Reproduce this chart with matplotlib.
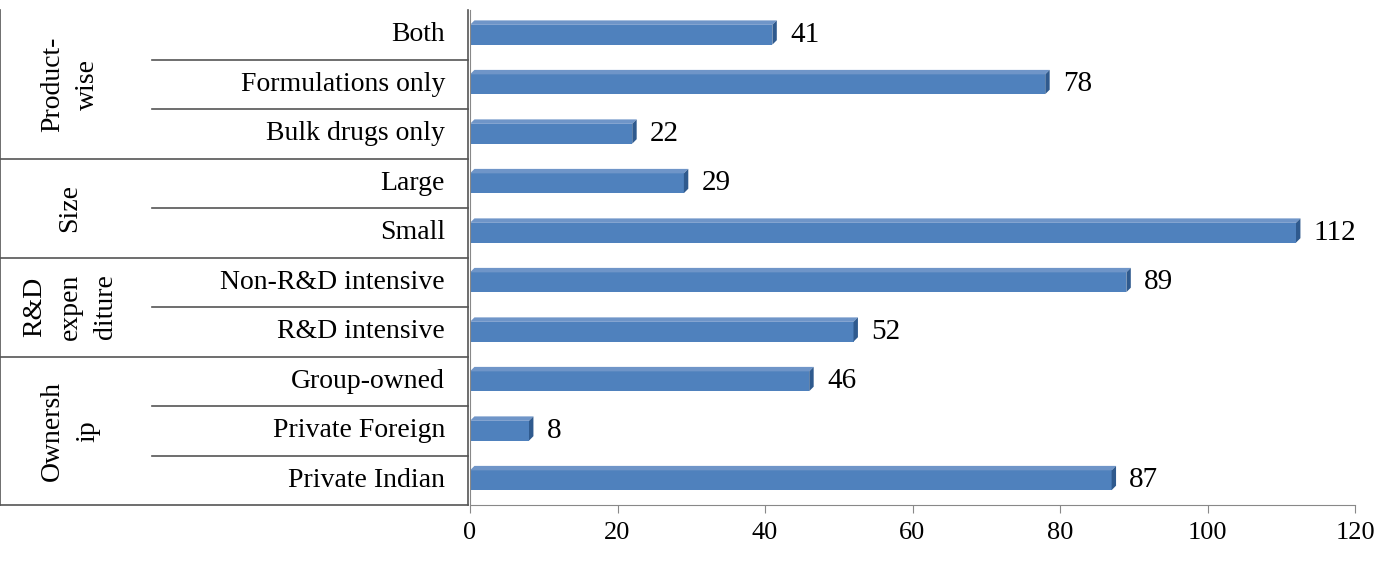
import matplotlib.pyplot as plt
from matplotlib.patches import Polygon, Rectangle
from matplotlib.lines import Line2D

categories = ["Private Indian", "Private Foreign", "Group-owned", "R&D intensive",
              "Non-R&D intensive", "Small", "Large", "Bulk drugs only",
              "Formulations only", "Both"]
values = [87, 8, 46, 52, 89, 112, 29, 22, 78, 41]
groups = ["Ownersh\nip", "R&D\nexpen\nditure", "Size", "Product-\nwise"]
group_rows = [(0, 3), (3, 5), (5, 7), (7, 10)]
x_ticks = [0, 20, 40, 60, 80, 100, 120]

plt.rcParams["font.family"] = "Liberation Serif"
W, H = 1377, 562
fig = plt.figure(figsize=(W / 100, H / 100), dpi=100)
top_px, bot_px, left_px, right_px = 10, 505, 470, 1355
ax = fig.add_axes([left_px / W, 1 - bot_px / H, (right_px - left_px) / W, (bot_px - top_px) / H])
ax.set_xlim(0, 120)
ax.set_ylim(-0.5, len(categories) - 0.5)

face = "#4F81BD"
topc = "#6F95C8"
side = "#2F5A8E"
bh = 0.4
dx, dy = 0.6, 0.09
for i, v in enumerate(values):
    y0 = i - bh / 2
    ax.add_patch(Rectangle((0, y0), v, bh, facecolor=face, edgecolor="none"))
    ax.add_patch(Polygon([(0, y0 + bh), (v, y0 + bh), (v + dx, y0 + bh + dy), (dx, y0 + bh + dy)],
                         closed=True, facecolor=topc, edgecolor="none"))
    ax.add_patch(Polygon([(v, y0), (v + dx, y0 + dy), (v + dx, y0 + bh + dy), (v, y0 + bh)],
                         closed=True, facecolor=side, edgecolor="none"))
    ax.text(v + 2.4, i, str(v), va="center", ha="left", fontsize=21)

ax.set_yticks([])
ax.set_xticks(x_ticks)
ax.tick_params(axis="x", labelsize=19, length=6, color="#888888", direction="out", pad=6)
for s in ["top", "right"]:
    ax.spines[s].set_visible(False)
ax.spines["left"].set_color("#888888")
ax.spines["bottom"].set_color("#888888")

# hierarchical category labels
row_h = (bot_px - top_px) / len(categories)
def fy(px):
    return 1 - px / H
def line(x0, x1, y0, y1):
    fig.add_artist(Line2D([x0 / W, x1 / W], [fy(y0), fy(y1)], color="#555555", lw=1.2))

line(0, 0, top_px, bot_px)
line(0, 468, bot_px, bot_px)
line(468, 468, top_px, bot_px)
boundaries = [g[0] for g in group_rows[1:]]
for k in range(1, len(categories)):
    ypx = bot_px - k * row_h
    if k in boundaries:
        line(0, 468, ypx, ypx)
    else:
        line(152, 468, ypx, ypx)

for i, c in enumerate(categories):
    ypx = bot_px - (i + 0.5) * row_h
    fig.text(445 / W, fy(ypx), c, ha="right", va="center", fontsize=20)

for g, (a, b) in zip(groups, group_rows):
    ypx = bot_px - (a + b) / 2 * row_h
    fig.text(70 / W, fy(ypx), g, ha="center", va="center", rotation=90,
             fontsize=20, linespacing=1.55, multialignment="center")

fig.savefig("out.png", dpi=100)
